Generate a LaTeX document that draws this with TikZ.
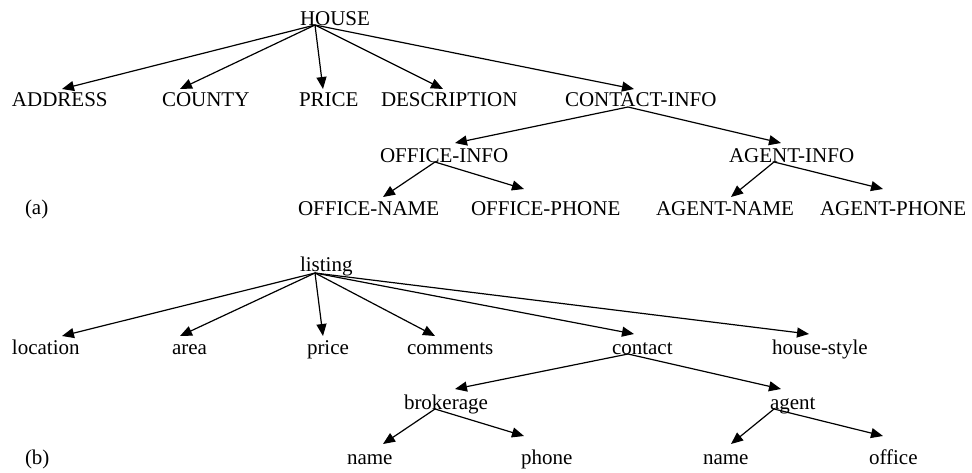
\documentclass[tikz,border=0pt]{standalone}
\usepackage{fontspec}
\setmainfont{Liberation Serif}
\usetikzlibrary{arrows.meta}
\begin{document}
\begin{tikzpicture}[x=1pt,y=-1pt,
  lbl/.style={anchor=base west,inner sep=0pt,outer sep=0pt,font=\fontsize{21}{25}\selectfont},
  edge/.style={line width=1.2pt,-{Triangle[length=12pt,width=10pt]}}]
\useasboundingbox (0,0) rectangle (972,472);

% ---------- (a) ----------
\node[lbl] (house) at (300,25) {HOUSE};
\node[lbl] (address) at (12,106) {ADDRESS};
\node[lbl] (county) at (162,106) {COUNTY};
\node[lbl] (priceA) at (299,106) {PRICE};
\node[lbl] (descr) at (381,106) {DESCRIPTION};
\node[lbl] (cinfo) at (565,106) {CONTACT-INFO};
\node[lbl] (oinfo) at (380,162) {OFFICE-INFO};
\node[lbl] (ainfo) at (729,162) {AGENT-INFO};
\node[lbl] (oname) at (298,215) {OFFICE-NAME};
\node[lbl] (ophone) at (471,215) {OFFICE-PHONE};
\node[lbl] (aname) at (656,215) {AGENT-NAME};
\node[lbl] (aphone) at (820,215) {AGENT-PHONE};
\node[lbl] (capA) at (25,214) {(a)};

% connector ends
\coordinate (house-o) at (315,25);
\coordinate (cinfo-o) at (628,107);
\coordinate (oinfo-o) at (435,162);
\coordinate (ainfo-o) at (774,162);
\coordinate (address-t) at (62,89);
\coordinate (county-t) at (180,89);
\coordinate (priceA-t) at (323,89);
\coordinate (descr-t) at (443,89);
\coordinate (cinfo-t) at (634,89);
\coordinate (oinfo-t) at (455,143);
\coordinate (ainfo-t) at (781,143);
\coordinate (oname-t) at (383,197);
\coordinate (ophone-t) at (524,189);
\coordinate (aname-t) at (731,197);
\coordinate (aphone-t) at (883,189);

\foreach \t in {address,county,priceA,descr,cinfo}
  \draw[edge] (house-o) -- (\t-t);
\draw[edge] (cinfo-o) -- (oinfo-t);
\draw[edge] (cinfo-o) -- (ainfo-t);
\draw[edge] (oinfo-o) -- (oname-t);
\draw[edge] (oinfo-o) -- (ophone-t);
\draw[edge] (ainfo-o) -- (aname-t);
\draw[edge] (ainfo-o) -- (aphone-t);

% ---------- (b) ----------
\node[lbl] (listing) at (300,271) {listing};
\node[lbl] (location) at (12,354) {location};
\node[lbl] (area) at (172,354) {area};
\node[lbl] (priceB) at (307,354) {price};
\node[lbl] (comments) at (407,354) {comments};
\node[lbl] (contact) at (612,354) {contact};
\node[lbl] (hstyle) at (772,354) {house-style};
\node[lbl] (brokerage) at (404,409) {brokerage};
\node[lbl] (agent) at (770,409) {agent};
\node[lbl] (bname) at (347,464) {name};
\node[lbl] (phone) at (521,464) {phone};
\node[lbl] (agname) at (703,464) {name};
\node[lbl] (office) at (869,464) {office};
\node[lbl] (capB) at (25,464) {(b)};

\coordinate (listing-o) at (315,273);
\coordinate (contact-o) at (628,354);
\coordinate (brokerage-o) at (435,409);
\coordinate (agent-o) at (774,409);
\coordinate (location-t) at (62,336);
\coordinate (area-t) at (180,336);
\coordinate (priceB-t) at (323,336);
\coordinate (comments-t) at (435,336);
\coordinate (contact-t) at (634,334);
\coordinate (hstyle-t) at (809,334);
\coordinate (brokerage-t) at (455,389);
\coordinate (agent-t) at (781,389);
\coordinate (bname-t) at (383,444);
\coordinate (phone-t) at (524,436);
\coordinate (agname-t) at (731,444);
\coordinate (office-t) at (883,436);

\foreach \t in {location,area,priceB,comments,contact,hstyle}
  \draw[edge] (listing-o) -- (\t-t);
\draw[edge] (contact-o) -- (brokerage-t);
\draw[edge] (contact-o) -- (agent-t);
\draw[edge] (brokerage-o) -- (bname-t);
\draw[edge] (brokerage-o) -- (phone-t);
\draw[edge] (agent-o) -- (agname-t);
\draw[edge] (agent-o) -- (office-t);
\end{tikzpicture}
\end{document}
